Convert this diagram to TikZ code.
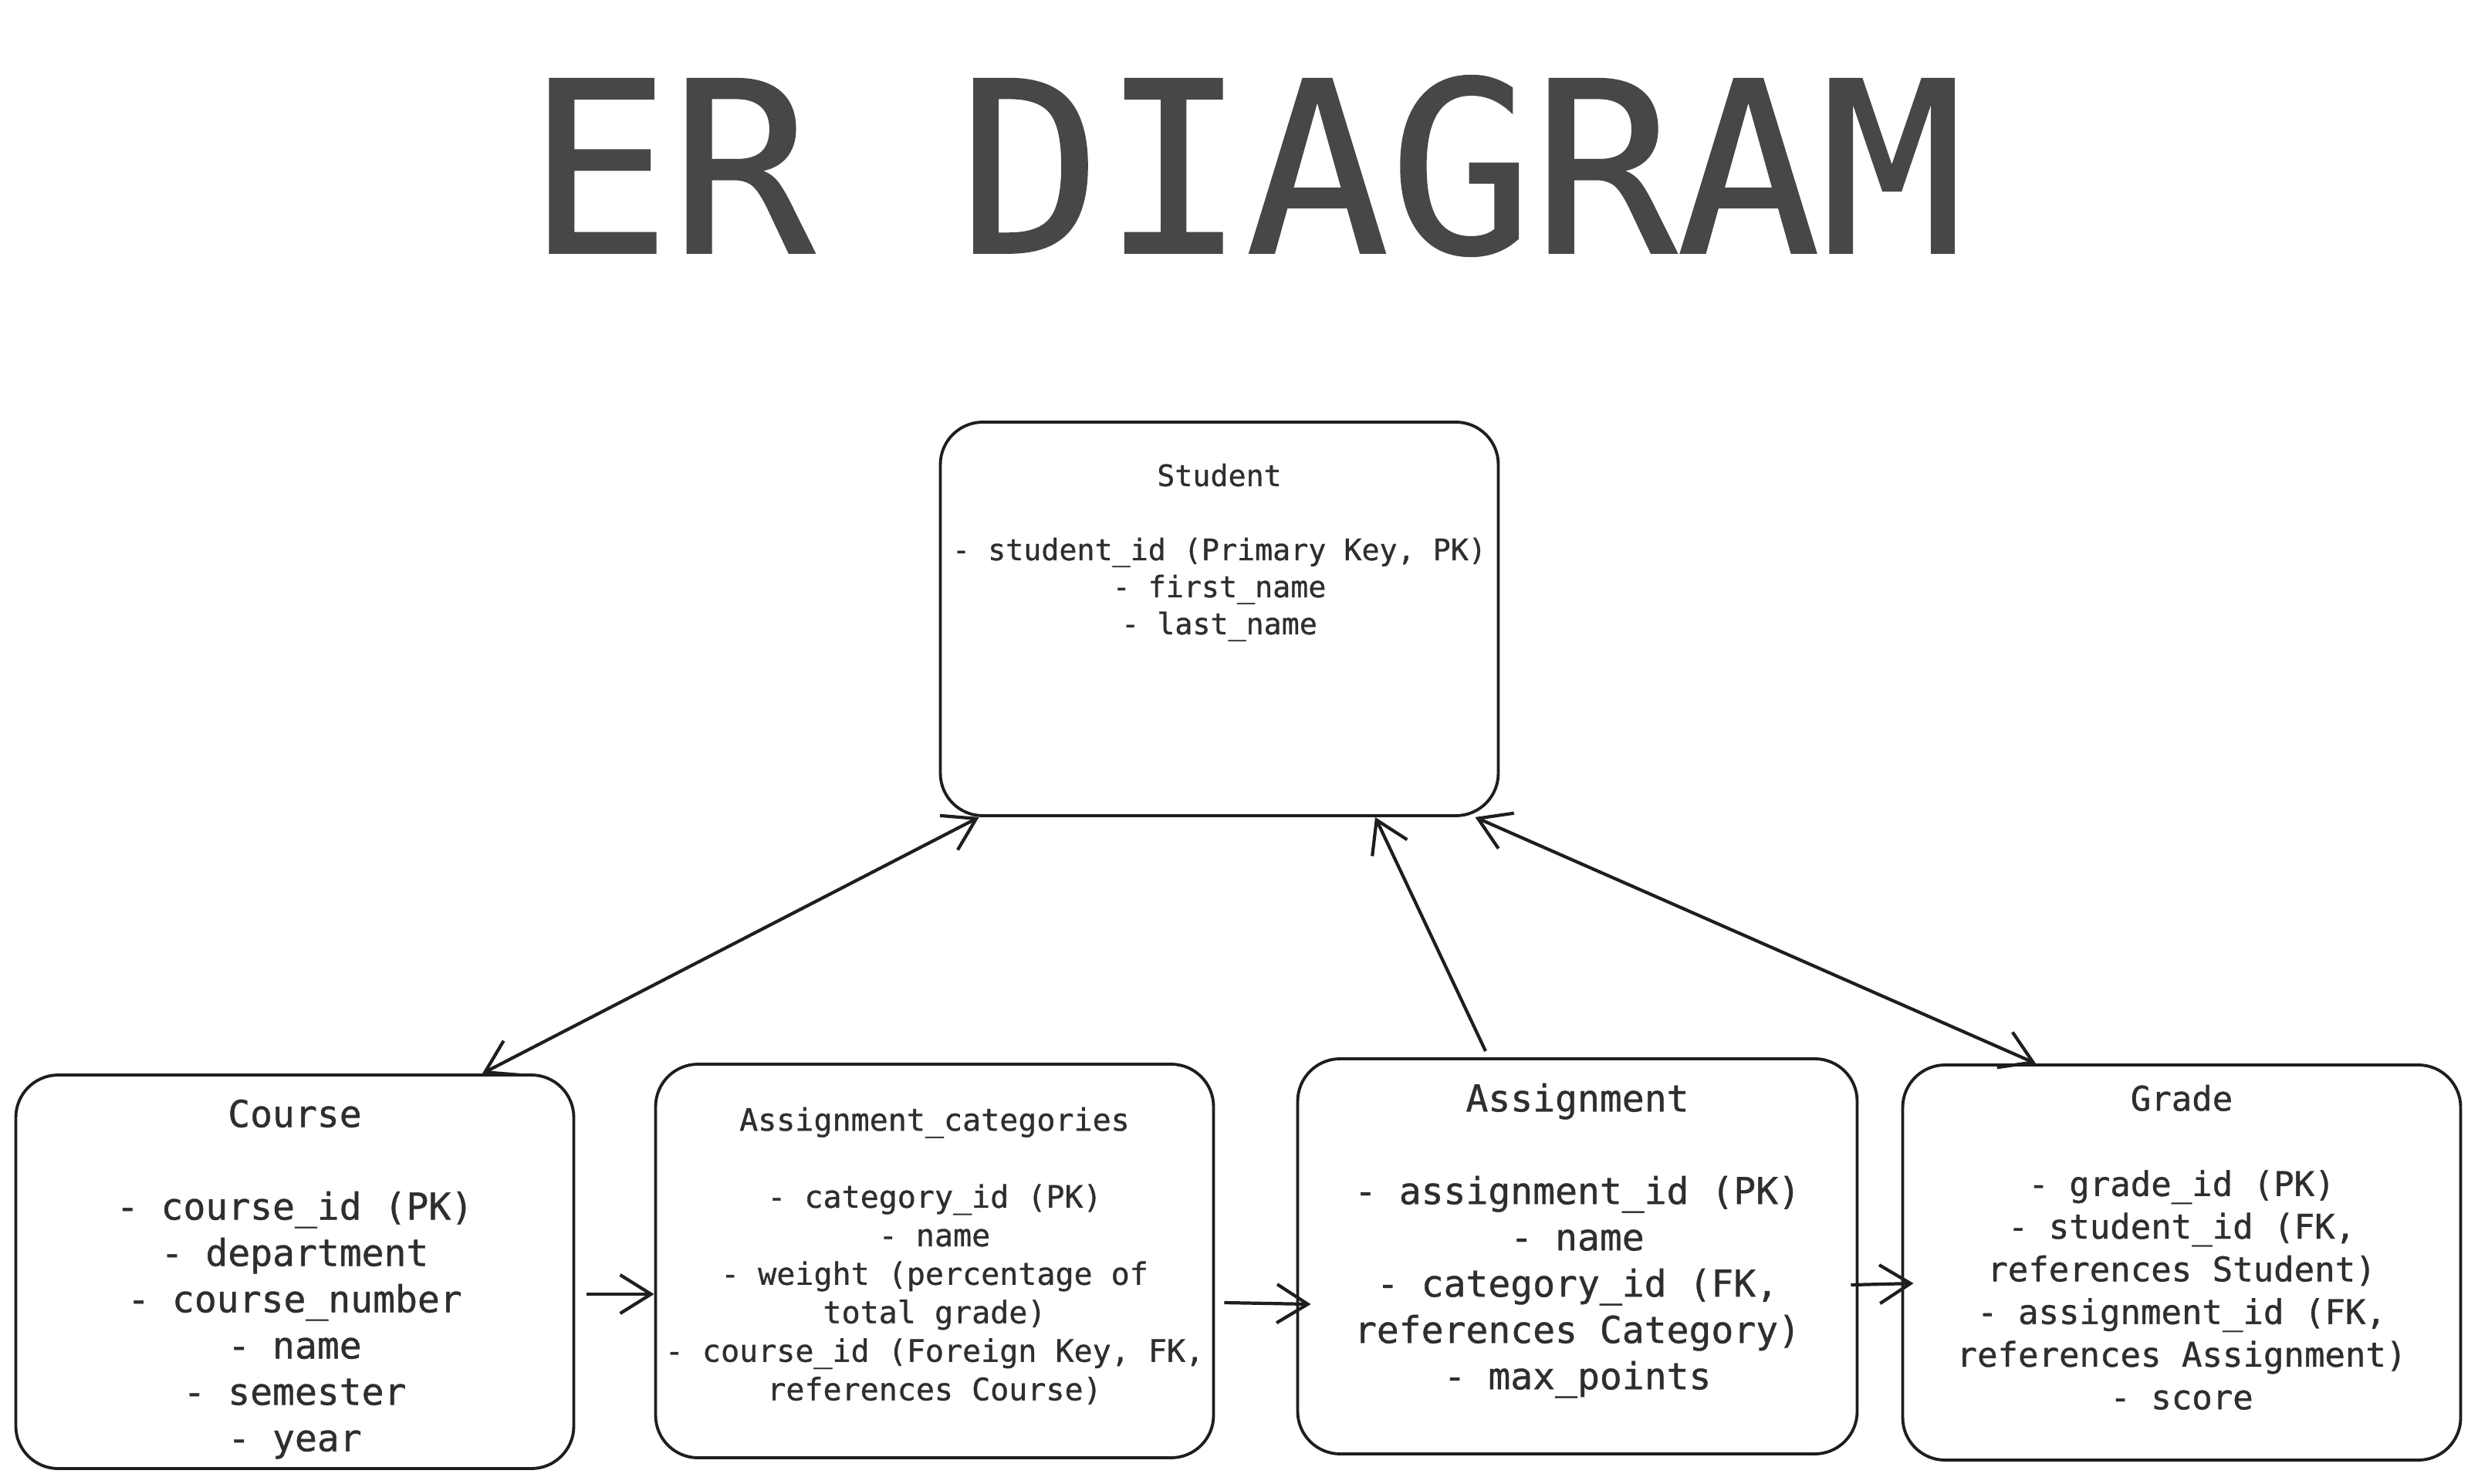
\documentclass[tikz,border=0pt]{standalone}
\usepackage{fontspec}
\setmonofont[FakeBold=0.8]{DejaVu Sans Mono}
\usetikzlibrary{arrows.meta,positioning}
\definecolor{ink}{HTML}{1E1E1E}
\definecolor{titlegray}{HTML}{474747}
\definecolor{txt}{HTML}{2E2E2E}

\begin{document}
\begin{tikzpicture}[
        entity/.style={draw=ink, line width=1.1pt, rounded corners=0.55cm, minimum width=7.23cm, minimum height=5.1cm, inner sep=0pt},
        fields/.style={anchor=north, align=center, inner sep=0pt, text=txt},
        barb/.tip={Straight Barb[length=0.4cm, width=0.5cm]},
        link/.style={draw=ink, line width=1.2pt, -barb},
        both/.style={link, barb-barb}
    ]
        \useasboundingbox (0, 0) rectangle (32.11, 19.22);

        \node[font={\ttfamily\fontsize{88pt}{100pt}\selectfont}, text=titlegray, inner sep=0pt] (title) at (16.14, 17.07) {ER DIAGRAM};

        \node[entity] (student) at (15.80, 11.20) {};
        \node[entity] (course) at (3.82, 2.74) {};
        \node[entity] (categories) at (12.11, 2.88) {};
        \node[entity, minimum width=7.25cm, minimum height=5.12cm] (assignment) at (20.44, 2.94) {};
        \node[entity, minimum height=5.12cm] (grade) at (28.27, 2.86) {};

        \node[fields, below=0.55cm of student.north, font={\ttfamily\fontsize{10.9pt}{13.66pt}\selectfont}] (studentText) {
            Student\\[\baselineskip]
            - student\_id (Primary Key, PK)\\
            - first\_name\\
            - last\_name};
        \node[fields, below=0.33cm of course.north, font={\ttfamily\fontsize{13.66pt}{17.07pt}\selectfont}] (courseText) {
            Course\\[\baselineskip]
            - course\_id (PK)\\
            - department\\
            - course\_number\\
            - name\\
            - semester\\
            - year};
        \node[fields, below=0.57cm of categories.north, font={\ttfamily\fontsize{11.38pt}{14.2pt}\selectfont}] (categoriesText) {
            Assignment\_categories\\[\baselineskip]
            - category\_id (PK)\\
            - name\\
            - weight (percentage of\\
            total grade)\\
            - course\_id (Foreign Key, FK,\\
            references Course)};
        \node[fields, below=0.33cm of assignment.north, font={\ttfamily\fontsize{13.66pt}{17.07pt}\selectfont}] (assignmentText) {
            Assignment\\[\baselineskip]
            - assignment\_id (PK)\\
            - name\\
            - category\_id (FK,\\
            references Category)\\
            - max\_points};
        \node[fields, below=0.27cm of grade.north, font={\ttfamily\fontsize{12.52pt}{15.73pt}\selectfont}] (gradeText) {
            Grade\\[\baselineskip]
            - grade\_id (PK)\\
            - student\_id (FK,\\
            references Student)\\
            - assignment\_id (FK,\\
            references Assignment)\\
            - score};

        % relations
        \draw[both] ([xshift=0.52cm]student.south west) -- ([xshift=2.43cm]course.north);
        \draw[link] ([xshift=-1.19cm, yshift=0.08cm]assignment.north) -- ([xshift=2.02cm]student.south);
        \draw[both] ([xshift=-0.32cm]student.south east) -- ([xshift=-1.89cm]grade.north);

        \draw[link] ([xshift=0.15cm, yshift=-0.29cm]course.east) -- ([yshift=-0.43cm]categories.west);
        \draw[link] ([xshift=0.12cm, yshift=-0.54cm]categories.east) -- ([xshift=0.19cm, yshift=-0.62cm]assignment.west);
        \draw[link] ([xshift=-0.10cm, yshift=-0.37cm]assignment.east) -- ([xshift=0.16cm, yshift=-0.27cm]grade.west);
    \end{tikzpicture}
\end{document}
